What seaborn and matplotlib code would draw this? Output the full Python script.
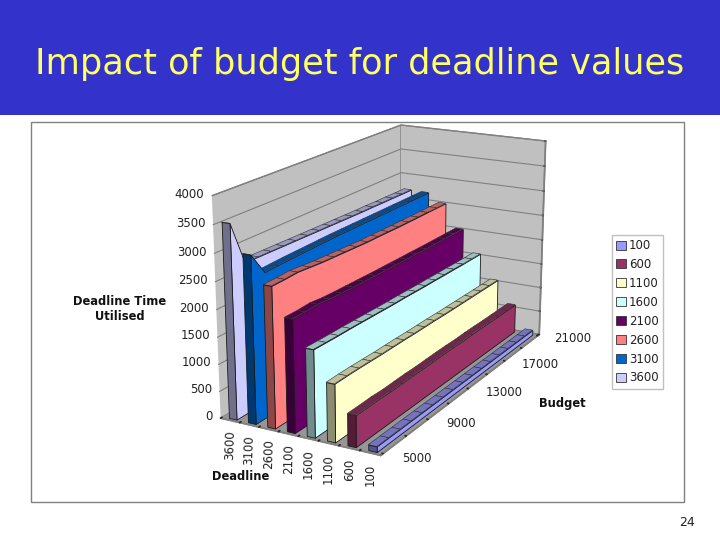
import matplotlib
matplotlib.use("Agg")
import matplotlib.pyplot as plt
import seaborn as sns
from matplotlib.patches import Patch, Rectangle
from mpl_toolkits.mplot3d.art3d import Poly3DCollection

budget = [5000, 6000, 7000, 8000, 9000, 10000, 11000, 12000, 13000,
          14000, 15000, 16000, 17000, 18000, 19000, 20000, 21000]
deadlines = [3600, 3100, 2600, 2100, 1600, 1100, 600, 100]
z_ticks = [0, 500, 1000, 1500, 2000, 2500, 3000, 3500, 4000]

util_3600 = [3545, 2750, 2745, 2740, 2735, 2730, 2725, 2720, 2715, 2710, 2705, 2700, 2700, 2695, 2695, 2690, 2690]
util_3100 = [3055, 2640, 2650, 2660, 2665, 2670, 2675, 2680, 2680, 2680, 2680, 2680, 2680, 2680, 2680, 2680, 2680]
util_2600 = [2570, 2575, 2590, 2570, 2550, 2540, 2530, 2520, 2510, 2510, 2505, 2500, 2500, 2500, 2500, 2500, 2500]
util_2100 = [2060, 2060, 2075, 2050, 2040, 2035, 2030, 2025, 2020, 2020, 2015, 2015, 2010, 2010, 2010, 2010, 2010]
util_1600 = [1590, 1585, 1580, 1580, 1575, 1570, 1565, 1560, 1560, 1555, 1550, 1550, 1545, 1545, 1540, 1540, 1540]
util_1100 = [1055, 1060, 1060, 1055, 1050, 1050, 1050, 1045, 1045, 1045, 1040, 1040, 1040, 1040, 1040, 1040, 1040]
util_600 = [575, 575, 580, 570, 575, 580, 575, 580, 585, 585, 580, 585, 585, 580, 580, 580, 580]
util_100 = [100, 100, 100, 100, 100, 100, 100, 100, 100, 100, 100, 100, 100, 100, 100, 100, 100]
series = [util_3600, util_3100, util_2600, util_2100, util_1600, util_1100, util_600, util_100]

colors = ["#CCCCFF", "#0066CC", "#FF8080", "#660066", "#CCFFFF", "#FFFFCC", "#993366", "#9999FF"]

W, H = 720, 540

sns.set_theme(style="white")
plt.rcParams["font.family"] = ["DejaVu Sans"]
palette = sns.color_palette(colors)

fig = plt.figure(figsize=(W / 100, H / 100), dpi=100, facecolor="white")

# slide background
fig.add_artist(Rectangle((0, 1 - 115 / H), 1, 115 / H, transform=fig.transFigure,
                         facecolor="#3333CC", edgecolor="none", zorder=-2))
fig.add_artist(Rectangle((31 / W, 1 - 502 / H), 653 / W, 380 / H, transform=fig.transFigure,
                         facecolor="white", edgecolor="#808080", linewidth=1, zorder=-2))
fig.text(360 / W, 1 - 64 / H, "Impact of budget for deadline values", color="#FFFF66",
         fontsize=25.3, ha="center", va="center")
fig.text(687 / W, 1 - 523 / H, "24", color="#222222", fontsize=9, ha="center", va="center")

# 3d chart
S = 440
ax = fig.add_axes([(386 - S / 2) / W, 1 - (278 + S / 2) / H, S / W, S / H], projection="3d")
ax.patch.set_alpha(0)
ax.computed_zorder = False
ax.set_proj_type("persp", focal_length=0.6)
ax.view_init(elev=17.5, azim=-61.3)
ax.set_box_aspect((163, 337, 204))

y0, y1 = 4800, 21200
ax.set_xlim(0, 8)
ax.set_ylim(y0, y1)
ax.set_zlim(0, 4000)

ax.grid(False)
for axis, col in ((ax.xaxis, "#C0C0C0"), (ax.yaxis, "#C0C0C0"), (ax.zaxis, "#969696")):
    axis.set_pane_color(col)
    axis.pane.set_edgecolor("#808080")
    axis.line.set_color("#808080")
    axis._axinfo["tick"]["outward_factor"] = 0.08
    axis._axinfo["tick"]["inward_factor"] = 0.0
    axis._axinfo["tick"]["color"] = "#808080"

for z in z_ticks[1:]:
    ax.plot([0, 0], [y0, y1], [z, z], color="#808080", lw=0.8, zorder=1)
    ax.plot([0, 8], [y1, y1], [z, z], color="#808080", lw=0.8, zorder=1)

ax.set_xticks(range(9))
ax.set_xticklabels([])
ax.set_yticks(budget[::2])
ax.set_yticklabels([])
ax.set_zticks(z_ticks)
ax.set_zticklabels([])

tick_font = dict(fontsize=8.5, color="#222222")
for i, d in enumerate(deadlines):
    # mplot3d folds text angles to (-90, 90], so lean the direction a bit right to read bottom-up
    lean = 0.012 * (8 - i)
    ax.text(i + 0.5, y0, -190, str(d), zdir=(lean, 0, 500), ha="center", va="top", **tick_font)
for b in budget[::4]:
    ax.text(8.9, b, 0, str(b), ha="left", va="center", **tick_font)
for z in z_ticks:
    ax.text(-0.4, y0, z, str(z), ha="right", va="center", **tick_font)


def darker(c, f):
    return tuple(v * f for v in c)


edge = "#1a1a1a"
for i, vals in enumerate(series):
    xa, xb = i + 0.3, i + 0.7
    c = palette[i]
    tops = []
    for k in range(len(budget) - 1):
        tops.append([(xa, budget[k], vals[k]), (xb, budget[k], vals[k]),
                     (xb, budget[k + 1], vals[k + 1]), (xa, budget[k + 1], vals[k + 1])])
    side = [(xb, b, v) for b, v in zip(budget, vals)] + [(xb, budget[-1], 0), (xb, budget[0], 0)]
    end = [(xa, budget[0], 0), (xb, budget[0], 0), (xb, budget[0], vals[0]), (xa, budget[0], vals[0])]
    zo = 5 + i
    ax.add_collection3d(Poly3DCollection(tops, facecolor=darker(c, 0.75), edgecolor="#333333",
                                         linewidth=0.4, zorder=zo))
    ax.add_collection3d(Poly3DCollection([side], facecolor=c, edgecolor=edge, linewidth=0.6, zorder=zo))
    ax.add_collection3d(Poly3DCollection([end], facecolor=darker(c, 0.55), edgecolor=edge,
                                         linewidth=0.6, zorder=zo))

label_font = dict(fontsize=8.3, fontweight="bold", ha="center", va="center", color="#111111")
fig.text(120 / W, 1 - 309 / H, "Deadline Time\nUtilised", **label_font)
fig.text(241 / W, 1 - 476 / H, "Deadline", **label_font)
fig.text(562 / W, 1 - 404 / H, "Budget", **label_font)

handles = [Patch(facecolor=palette[i], edgecolor="#333333", linewidth=0.6, label=str(deadlines[i]))
           for i in range(7, -1, -1)]
fig.legend(handles=handles, loc="upper left", bbox_to_anchor=(612 / W, 1 - 235 / H),
           borderaxespad=0, fontsize=8.5, frameon=True, fancybox=False, edgecolor="#C0C0C0",
           framealpha=1, handlelength=0.8, handleheight=0.8, handletextpad=0.3,
           labelspacing=0.5, borderpad=0.35, labelcolor="#222222")

fig.savefig("out.png", dpi=100)
